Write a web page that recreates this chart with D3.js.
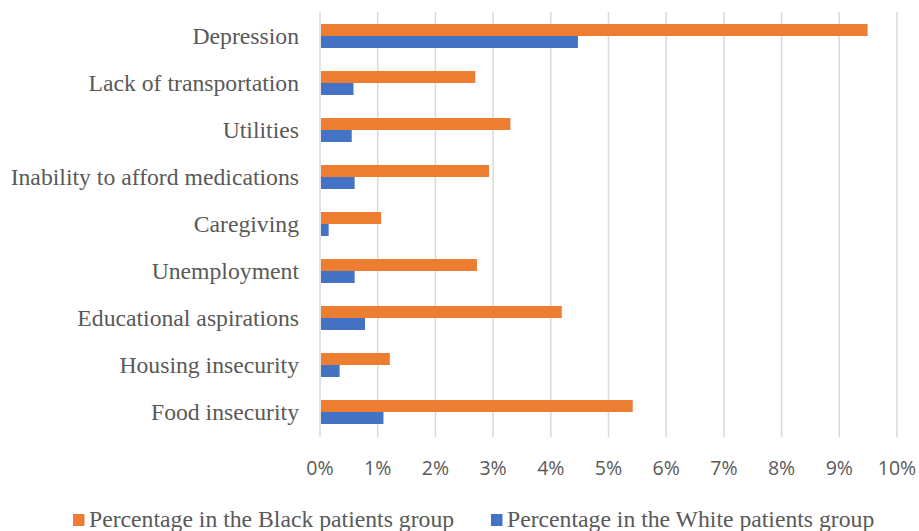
<!DOCTYPE html>
<html>
<head>
<meta charset="utf-8">
<script src="https://cdn.jsdelivr.net/npm/d3@7/dist/d3.min.js"></script>
<style>
  html, body { margin: 0; padding: 0; background: #fff; }
  svg { display: block; }
</style>
</head>
<body>
<svg id="chart" width="919" height="531"></svg>
<script>
// Social needs, top to bottom
const categories = [
  "Depression",
  "Lack of transportation",
  "Utilities",
  "Inability to afford medications",
  "Caregiving",
  "Unemployment",
  "Educational aspirations",
  "Housing insecurity",
  "Food insecurity"
];
// Percentages per group (same order as categories)
const blackValues = [9.49, 2.69, 3.30, 2.93, 1.06, 2.72, 4.19, 1.21, 5.42];
const whiteValues = [4.47, 0.58, 0.55, 0.60, 0.15, 0.60, 0.78, 0.34, 1.10];
const seriesNames = ["Percentage in the Black patients group", "Percentage in the White patients group"];
const seriesColors = ["#ED7D31", "#4472C4"];
const tickValues = [0, 1, 2, 3, 4, 5, 6, 7, 8, 9, 10];

const svg = d3.select("#chart");
const textColor = "#595959";
const serif = "'Liberation Serif', 'Times New Roman', serif";

const x = d3.scaleLinear().domain([0, 10]).range([320, 897]);
const y = d3.scaleBand().domain(categories).range([12.5, 435.5])
  .paddingInner(0.49).paddingOuter(0.245);
const sub = d3.scaleBand().domain([0, 1]).range([0, y.bandwidth()]);

// vertical gridlines
svg.append("g")
  .selectAll("line")
  .data(tickValues)
  .join("line")
  .attr("x1", d => x(d)).attr("x2", d => x(d))
  .attr("y1", 12).attr("y2", 437)
  .attr("stroke", "#D9D9D9")
  .attr("stroke-width", 1.5);

// bars
const rows = categories.map((c, i) => ({ c, vals: [blackValues[i], whiteValues[i]] }));
const groups = svg.append("g")
  .selectAll("g")
  .data(rows)
  .join("g")
  .attr("transform", d => `translate(0,${y(d.c)})`);

groups.selectAll("rect")
  .data(d => d.vals.map((v, k) => ({ v, k })))
  .join("rect")
  .attr("x", x(0) + 1)
  .attr("y", d => sub(d.k))
  .attr("width", d => x(d.v) - x(0) - 1)
  .attr("height", sub.bandwidth())
  .attr("fill", d => seriesColors[d.k]);

// category labels
svg.append("g")
  .selectAll("text")
  .data(categories)
  .join("text")
  .attr("x", 299)
  .attr("y", d => y(d) + y.bandwidth() / 2 + 8)
  .attr("text-anchor", "end")
  .attr("font-family", serif)
  .attr("font-size", "23.7px")
  .attr("fill", textColor)
  .text(d => d);

// x-axis tick labels
svg.append("g")
  .selectAll("text")
  .data(tickValues)
  .join("text")
  .attr("x", d => x(d))
  .attr("y", 475)
  .attr("text-anchor", "middle")
  .attr("font-family", "'Open Sans', 'Liberation Sans', sans-serif")
  .attr("font-size", "19.5px")
  .attr("fill", textColor)
  .text(d => d + "%");

// legend
const legendX = [73, 491];
const legend = svg.append("g")
  .selectAll("g")
  .data(seriesNames)
  .join("g")
  .attr("transform", (d, i) => `translate(${legendX[i]},0)`);
legend.append("rect")
  .attr("x", 0).attr("y", 514)
  .attr("width", 11.5).attr("height", 12)
  .attr("fill", (d, i) => seriesColors[i]);
legend.append("text")
  .attr("x", 16)
  .attr("y", 527)
  .attr("font-family", serif)
  .attr("font-size", "23.7px")
  .attr("fill", textColor)
  .text(d => d);
</script>
</body>
</html>
